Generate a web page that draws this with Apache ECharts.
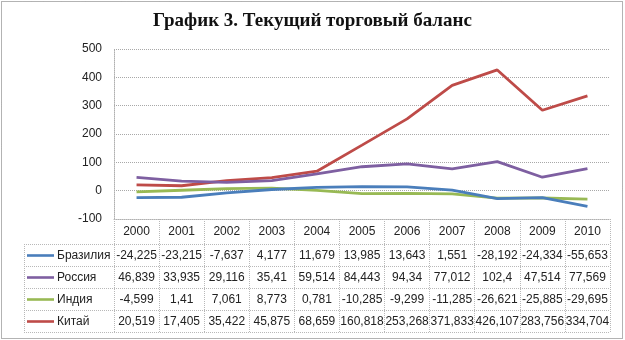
<!DOCTYPE html>
<html><head><meta charset="utf-8">
<script src="https://cdn.jsdelivr.net/npm/echarts@6/dist/echarts.min.js"></script>
<style>html,body{margin:0;padding:0;background:#fff}#c{width:625px;height:340px}</style>
</head><body><div id="c"></div>
<script>
const years = ['2000','2001','2002','2003','2004','2005','2006','2007','2008','2009','2010'];
const brazil = [-24.225,-23.215,-7.637,4.177,11.679,13.985,13.643,1.551,-28.192,-24.334,-55.653];
const russia = [46.839,33.935,29.116,35.41,59.514,84.443,94.34,77.012,102.4,47.514,77.569];
const india = [-4.599,1.41,7.061,8.773,0.781,-10.285,-9.299,-11.285,-26.621,-25.885,-29.695];
const china = [20.519,17.405,35.422,45.875,68.659,160.818,253.268,371.833,426.107,283.756,334.704];
const names = ['Бразилия','Россия','Индия','Китай'];
const colors = ['#4A7EBB','#7E5FA1','#98B954','#BE4B48'];
const yTicks = {min:-100, max:500, interval:100};

const rows = [brazil, russia, india, china];
const FONT = 'Liberation Sans';
const chart = echarts.init(document.getElementById('c'));
const gridL = 114, gridR = 15, gridT = 49, gridB = 121;
const option = {
  animation:false,
  backgroundColor:'#fff',
  title:{text:'График 3. Текущий торговый баланс', left:'center', top:7,
    textStyle:{fontFamily:'Liberation Serif', fontWeight:'bold', fontSize:19, color:'#111'}},
  grid:{left:gridL, right:gridR, top:gridT, bottom:gridB},
  xAxis:{type:'category', data:years, boundaryGap:true,
    axisLine:{onZero:false, lineStyle:{color:'#b0b0b0', type:'dotted'}},
    axisTick:{show:true, length:113, interval:0, lineStyle:{color:'#b8b8b8', type:'dotted'}},
    axisLabel:{margin:7, fontFamily:FONT, fontSize:12, color:'#222', interval:0},
    splitLine:{show:false}},
  yAxis:{type:'value', min:yTicks.min, max:yTicks.max, interval:yTicks.interval,
    axisLine:{show:true, lineStyle:{color:'#b0b0b0', type:'dotted'}},
    axisTick:{show:false},
    axisLabel:{margin:12, fontFamily:FONT, fontSize:12, color:'#222'},
    splitLine:{lineStyle:{color:'#a8a8a8', type:'dotted'}}},
  series: rows.map((d,i)=>({name:names[i], type:'line', data:d, showSymbol:false, symbol:'none',
    lineStyle:{width:2.8, color:colors[i]}, itemStyle:{color:colors[i]}, z:10-i}))
};
chart.setOption(option);

function fmt(v){ return String(v).replace('.', ','); }
const cx = years.map((y,i)=>chart.convertToPixel({xAxisIndex:0}, i));
const colW = cx[1]-cx[0];
const tableL = 24, tableR = cx[cx.length-1] + colW/2;
const rowTop = 244, rowH = 22;
const g = [];
for (let r=0; r<=rows.length; r++) {
  const y = rowTop + r*rowH + 0.5;
  g.push({type:'line', shape:{x1:tableL, y1:y, x2:tableR, y2:y}, style:{stroke:'#b8b8b8', lineWidth:1, lineDash:[1,1]}});
}
g.push({type:'line', shape:{x1:tableL+0.5, y1:rowTop, x2:tableL+0.5, y2:rowTop+rows.length*rowH}, style:{stroke:'#b8b8b8', lineWidth:1, lineDash:[1,1]}});
rows.forEach((d,r)=>{
  const yc = rowTop + r*rowH + rowH/2 + 0.5;
  g.push({type:'line', shape:{x1:27, y1:yc, x2:54, y2:yc}, style:{stroke:colors[r], lineWidth:2.6}});
  g.push({type:'text', style:{text:names[r], x:57, y:yc, textVerticalAlign:'middle', textAlign:'left', font:'12px "'+FONT+'"', fill:'#222'}});
  d.forEach((v,i)=>{
    g.push({type:'text', style:{text:fmt(v), x:cx[i], y:yc, textVerticalAlign:'middle', textAlign:'center', font:'12px "'+FONT+'"', fill:'#222'}});
  });
});
g.push({type:'rect', shape:{x:1.5, y:1.5, width:621, height:337}, style:{fill:'none', stroke:'#666', lineWidth:1, lineDash:[1,1]}});
chart.setOption({graphic:g});
</script></body></html>
